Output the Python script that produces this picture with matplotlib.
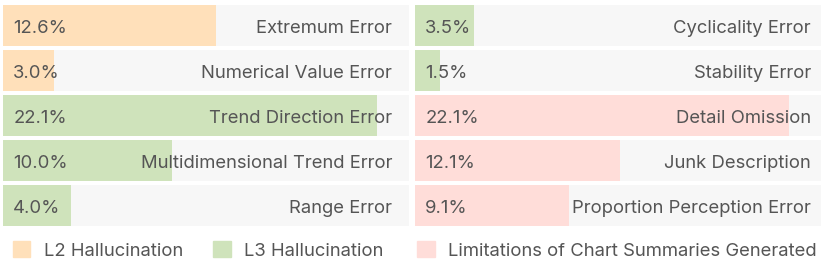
import matplotlib.pyplot as plt
from matplotlib.patches import Patch

plt.rcParams['font.family'] = ['Inter', 'DejaVu Sans']

# left panel
left_labels = ["Extremum Error", "Numerical Value Error", "Trend Direction Error",
               "Multidimensional Trend Error", "Range Error"]
left_values = [12.6, 3.0, 22.1, 10.0, 4.0]
left_groups = ["L2", "L2", "L3", "L3", "L3"]

# right panel
right_labels = ["Cyclicality Error", "Stability Error", "Detail Omission",
                "Junk Description", "Proportion Perception Error"]
right_values = [3.5, 1.5, 22.1, 12.1, 9.1]
right_groups = ["L3", "L3", "LIM", "LIM", "LIM"]

group_names = {"L2": "L2 Hallucination", "L3": "L3 Hallucination",
               "LIM": "Limitations of Chart Summaries Generated"}
colors = {"L2": "#FFE0BA", "L3": "#CFE3BB", "LIM": "#FFDDD9"}
bg_color = "#F7F7F7"
text_color = "#555555"
XMAX = 24
FS = 13.3

W, H = 830, 267
fig = plt.figure(figsize=(W / 100, H / 100), dpi=100)

top_px, bottom_px = 3, 228
ax_l = fig.add_axes([3 / W, 1 - bottom_px / H, 406 / W, (bottom_px - top_px) / H])
ax_r = fig.add_axes([415 / W, 1 - bottom_px / H, 406 / W, (bottom_px - top_px) / H])


def draw_panel(ax, labels, values, groups, pad):
    y = range(len(labels))
    ax.barh(y, [XMAX] * len(labels), height=0.91, color=bg_color, zorder=1)
    ax.barh(y, values, height=0.91, color=[colors[g] for g in groups], zorder=2)
    for i, (lab, v) in enumerate(zip(labels, values)):
        ax.text(0.6, i + 0.03, f"{v:.1f}%", ha='left', va='center_baseline', fontsize=FS,
                color=text_color, zorder=3)
        ax.text(XMAX - pad, i + 0.03, lab, ha='right', va='center_baseline', fontsize=FS,
                color=text_color, zorder=3)
    ax.set_xlim(0, XMAX)
    ax.set_ylim(len(labels) - 0.5, -0.5)
    ax.axis('off')


draw_panel(ax_l, left_labels, left_values, left_groups, 1.0)
draw_panel(ax_r, right_labels, right_values, right_groups, 0.6)

leg_kw = dict(frameon=False, handlelength=0.95, handleheight=0.95, handletextpad=0.75,
              borderaxespad=0, borderpad=0, fontsize=FS, labelcolor=text_color)
h_left = [Patch(color=colors[g], label=group_names[g]) for g in ["L2", "L3"]]
ax_l.legend(handles=h_left, loc='center left', bbox_to_anchor=(0.024, -0.1), ncol=2,
            columnspacing=1.6, **leg_kw)
h_right = [Patch(color=colors["LIM"], label=group_names["LIM"])]
ax_r.legend(handles=h_right, loc='center left', bbox_to_anchor=(0.005, -0.1), **leg_kw)

fig.savefig("out.png", dpi=100)
